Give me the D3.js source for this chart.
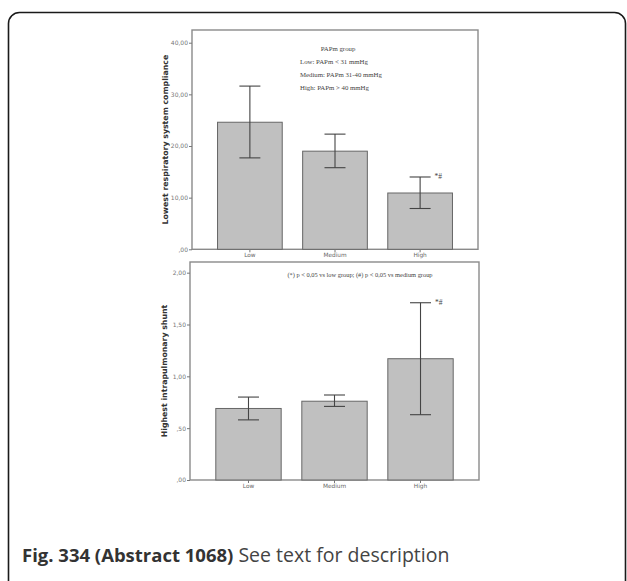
<!DOCTYPE html>
<html>
<head>
<meta charset="utf-8">
<script src="https://cdn.jsdelivr.net/npm/d3@7"></script>
<style>
  html, body { margin: 0; padding: 0; background: #fff; }
  svg { display: block; }
</style>
</head>
<body>
<svg id="chart" width="627" height="581"></svg>
<script>
const categories = ["Low", "Medium", "High"];
const complianceMean = [24.6, 19.0, 10.9];
const complianceLower = [17.7, 15.8, 7.9];
const complianceUpper = [31.6, 22.3, 14.0];
const shuntMean = [0.69, 0.76, 1.17];
const shuntLower = [0.58, 0.71, 0.63];
const shuntUpper = [0.80, 0.82, 1.71];
const complianceTicks = [0, 10, 20, 30, 40];
const complianceTickLabels = [",00", "10,00", "20,00", "30,00", "40,00"];
const shuntTicks = [0, 0.5, 1, 1.5, 2];
const shuntTickLabels = [",00", ",50", "1,00", "1,50", "2,00"];
const significance = ["", "", "*#"];
const legendLines = ["Low: PAPm < 31 mmHg", "Medium: PAPm 31-40 mmHg", "High: PAPm > 40 mmHg"];

const svg = d3.select("#chart");

svg.append("rect")
  .attr("x", 8.5).attr("y", 12.5).attr("width", 617).attr("height", 610)
  .attr("rx", 11).attr("ry", 11)
  .attr("fill", "none").attr("stroke", "#1a1a1a").attr("stroke-width", 1.6);

function panel(cfg) {
  const g = svg.append("g");
  const x = d3.scaleBand().domain(categories).range([cfg.left, cfg.right])
    .paddingInner(0.24).paddingOuter(0.3);
  const y = d3.scaleLinear().domain([0, cfg.max]).range([cfg.bottom, cfg.top]);

  g.append("rect")
    .attr("x", cfg.left).attr("y", cfg.top)
    .attr("width", cfg.right - cfg.left).attr("height", cfg.bottom - cfg.top)
    .attr("fill", "#fff").attr("stroke", "#8a8a8a").attr("stroke-width", 1.4);

  g.selectAll("rect.bar").data(categories).enter().append("rect")
    .attr("class", "bar")
    .attr("x", d => x(d))
    .attr("y", (d, i) => y(cfg.mean[i]))
    .attr("width", x.bandwidth())
    .attr("height", (d, i) => y(0) - y(cfg.mean[i]))
    .attr("fill", "#c0c0c0").attr("stroke", "#666").attr("stroke-width", 1);

  const cap = 21;
  categories.forEach((c, i) => {
    const cx = x(c) + x.bandwidth() / 2;
    const eg = g.append("g").attr("stroke", "#444").attr("stroke-width", 1.1);
    eg.append("line").attr("x1", cx).attr("x2", cx)
      .attr("y1", y(cfg.upper[i])).attr("y2", y(cfg.lower[i]));
    eg.append("line").attr("x1", cx - cap / 2).attr("x2", cx + cap / 2)
      .attr("y1", y(cfg.upper[i])).attr("y2", y(cfg.upper[i]));
    eg.append("line").attr("x1", cx - cap / 2).attr("x2", cx + cap / 2)
      .attr("y1", y(cfg.lower[i])).attr("y2", y(cfg.lower[i]));
    if (significance[i]) {
      g.append("text").attr("x", cx + cap / 2 + 4).attr("y", y(cfg.upper[i]) + 2)
        .attr("font-family", "Liberation Serif").attr("font-size", 7.5)
        .attr("fill", "#444").text(significance[i]);
    }
  });

  const yAxis = d3.axisLeft(y).tickValues(cfg.ticks).tickSize(3)
    .tickFormat((d, i) => cfg.tickLabels[i]);
  const ya = g.append("g").attr("transform", `translate(${cfg.left},0)`).call(yAxis);
  ya.select(".domain").remove();
  ya.selectAll("line").attr("stroke", "#777");
  ya.selectAll("text").attr("font-family", "DejaVu Sans").attr("font-size", 6)
    .attr("fill", "#777").attr("x", -4);

  const xAxis = d3.axisBottom(x).tickSize(3).tickSizeOuter(0);
  const xa = g.append("g").attr("transform", `translate(0,${cfg.bottom})`).call(xAxis);
  xa.select(".domain").remove();
  xa.selectAll("line").attr("stroke", "#777");
  xa.selectAll("text").attr("font-family", "DejaVu Sans").attr("font-size", 5.8)
    .attr("fill", "#666").attr("y", 4);

  g.append("text")
    .attr("transform", `translate(${cfg.titleX},${(cfg.top + cfg.bottom) / 2}) rotate(-90)`)
    .attr("text-anchor", "middle")
    .attr("font-family", "DejaVu Sans").attr("font-weight", "bold")
    .attr("font-size", 7.8).attr("fill", "#333").text(cfg.title);
  return { g, x, y };
}

const p1 = panel({
  left: 192, right: 478, top: 30, bottom: 249.3, max: 42.46,
  mean: complianceMean, lower: complianceLower, upper: complianceUpper,
  ticks: complianceTicks, tickLabels: complianceTickLabels,
  title: "Lowest respiratory system compliance", titleX: 168
});

const p2 = panel({
  left: 190, right: 479, top: 262, bottom: 480, max: 2.103,
  mean: shuntMean, lower: shuntLower, upper: shuntUpper,
  ticks: shuntTicks, tickLabels: shuntTickLabels,
  title: "Highest intrapulmonary shunt", titleX: 167
});

p1.g.append("text").attr("x", 338).attr("y", 50.5).attr("text-anchor", "middle")
  .attr("font-family", "Liberation Serif").attr("font-size", 6.8).attr("fill", "#444")
  .text("PAPm group");
legendLines.forEach((t, i) => {
  p1.g.append("text").attr("x", 300).attr("y", 64 + i * 13.2)
    .attr("font-family", "Liberation Serif").attr("font-size", 6.8).attr("fill", "#444")
    .text(t);
});

p2.g.append("text").attr("x", 360).attr("y", 276.5).attr("text-anchor", "middle")
  .attr("font-family", "Liberation Serif").attr("font-size", 6.4).attr("fill", "#444")
  .text("(*) p < 0,05 vs low group; (#) p < 0,05 vs medium group");

const caption = svg.append("text").attr("x", 22).attr("y", 562)
  .attr("font-family", "Open Sans").attr("font-size", 18.5).attr("fill", "#333");
caption.append("tspan").attr("font-weight", "bold").text("Fig. 334 (Abstract 1068)");
caption.append("tspan").attr("fill", "#444").attr("font-size", 19.5).text(" See text for description");
</script>
</body>
</html>
